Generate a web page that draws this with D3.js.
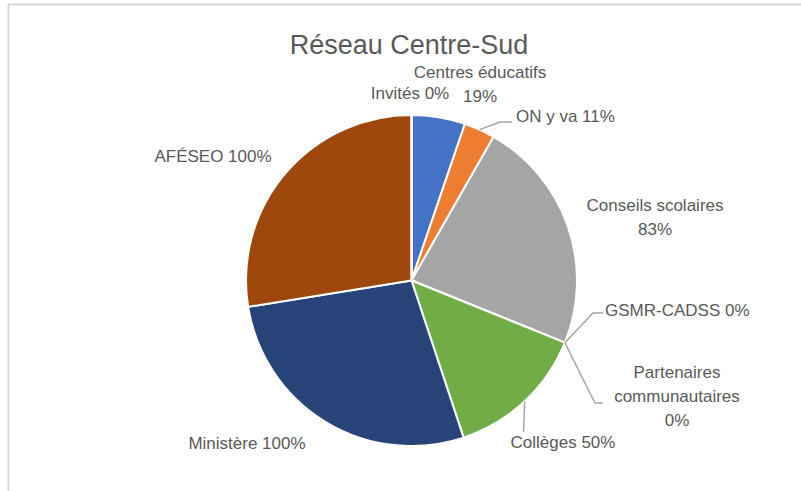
<!DOCTYPE html>
<html>
<head>
<meta charset="utf-8">
<script src="https://cdn.jsdelivr.net/npm/d3@7"></script>
<style>
  body { margin: 0; background: #fff; }
  text { font-family: "Liberation Sans", Arial, sans-serif; fill: #595959; }
</style>
</head>
<body>
<div id="chart"></div>
<script>
// Data
const categories = ["Centres éducatifs", "ON y va", "Conseils scolaires", "GSMR-CADSS",
    "Partenaires communautaires", "Collèges", "Ministère", "AFÉSEO", "Invités"];
const values = [19, 11, 83, 0, 0, 50, 100, 100, 0];
const sliceColors = ["#4472C4", "#ED7D31", "#A5A5A5", "#FFC000", "#5B9BD5",
    "#70AD47", "#264478", "#9E480E", "#636363"];

// label layout (lines, position, anchor, leader line end points)
const labelLines = [
    ["Centres éducatifs", "19%"], ["ON y va 11%"], ["Conseils scolaires", "83%"], ["GSMR-CADSS 0%"],
    ["Partenaires", "communautaires", "0%"], ["Collèges 50%"], ["Ministère 100%"], ["AFÉSEO 100%"], ["Invités 0%"]
];
const labelPos = [
    {x: 480, y: 78, anchor: "middle"},
    {x: 516, y: 122, anchor: "start"},
    {x: 655, y: 211, anchor: "middle"},
    {x: 605, y: 316, anchor: "start"},
    {x: 677, y: 378, anchor: "middle"},
    {x: 563, y: 448, anchor: "middle"},
    {x: 247, y: 449, anchor: "middle"},
    {x: 213, y: 162, anchor: "middle"},
    {x: 410, y: 99, anchor: "middle"}
];
const leaders = [
    null,
    [[500, 122], [512, 122]],
    null,
    [[593, 313], [603, 313]],
    [[595, 403], [603, 403]],
    [[523.5, 432]],
    null, null, null
];

const W = 801, H = 491;
const cx = 411.5, cy = 280.5, radius = 165.5;

const svg = d3.select("#chart").append("svg")
    .attr("width", W)
    .attr("height", H);

// chart frame
svg.append("line").attr("x1", 8).attr("y1", 4.5).attr("x2", W).attr("y2", 4.5)
    .attr("stroke", "#d9d9d9").attr("stroke-width", 2);
svg.append("line").attr("x1", 8.5).attr("y1", 4).attr("x2", 8.5).attr("y2", H)
    .attr("stroke", "#d9d9d9").attr("stroke-width", 2);

svg.append("text")
    .attr("x", 409)
    .attr("y", 54)
    .attr("text-anchor", "middle")
    .style("font-size", "27px")
    .text("Réseau Centre-Sud");

const pie = d3.pie().sort(null).value(d => d)(values);
const arc = d3.arc().innerRadius(0).outerRadius(radius);

const g = svg.append("g").attr("transform", `translate(${cx},${cy})`);

g.selectAll("path")
    .data(pie)
    .enter()
    .append("path")
    .attr("d", arc)
    .attr("fill", (d, i) => sliceColors[i])
    .attr("stroke", "#fff")
    .attr("stroke-width", 2)
    .attr("stroke-linejoin", "round");

// leader lines
pie.forEach((d, i) => {
    if (!leaders[i]) return;
    const a = (d.startAngle + d.endAngle) / 2;
    const start = [cx + radius * Math.sin(a), cy - radius * Math.cos(a)];
    svg.append("polyline")
        .attr("points", [start].concat(leaders[i]).map(p => p.join(",")).join(" "))
        .attr("fill", "none")
        .attr("stroke", "#a6a6a6")
        .attr("stroke-width", 1.5);
});

// labels
labelLines.forEach((lines, i) => {
    const t = svg.append("text")
        .attr("x", labelPos[i].x)
        .attr("y", labelPos[i].y)
        .attr("text-anchor", labelPos[i].anchor)
        .style("font-size", "17px");
    lines.forEach((l, j) => {
        t.append("tspan")
            .attr("x", labelPos[i].x)
            .attr("dy", j === 0 ? 0 : 24)
            .text(l);
    });
});
</script>
</body>
</html>
